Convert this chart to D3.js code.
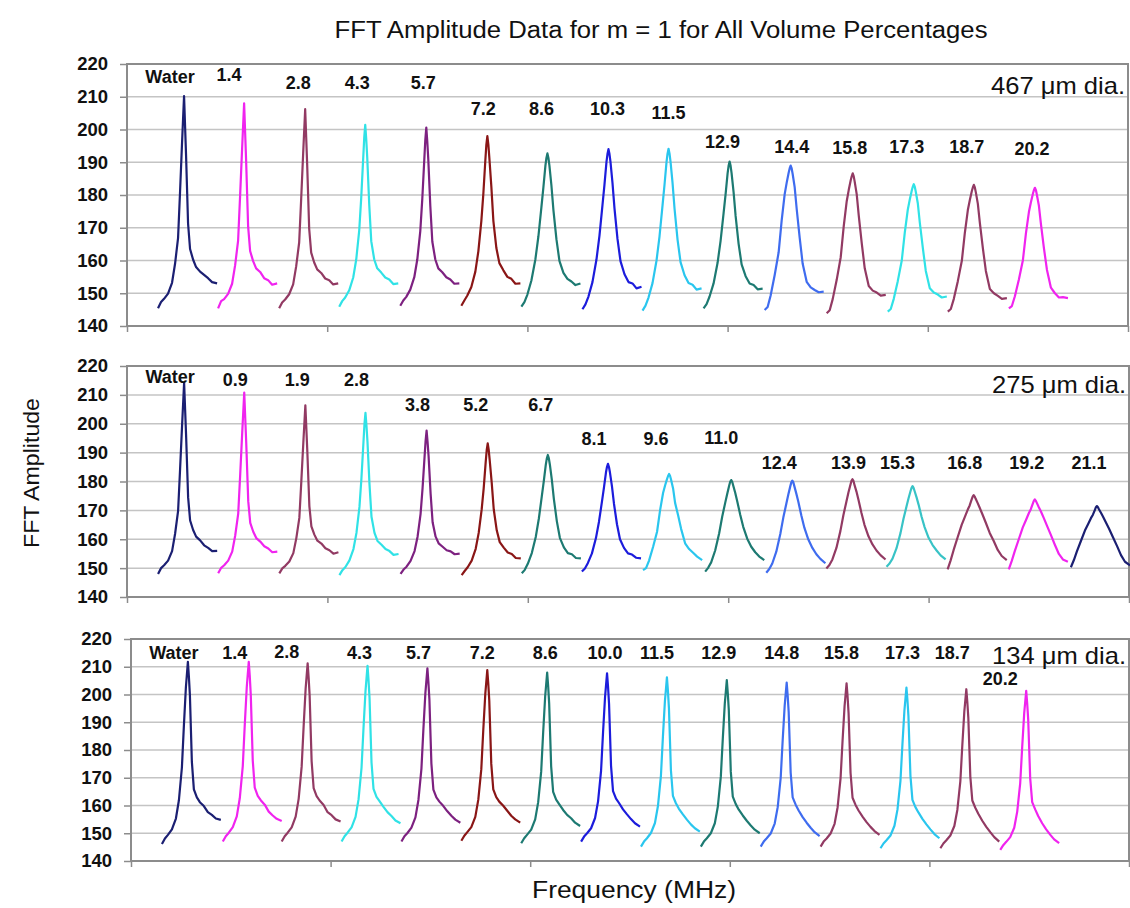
<!DOCTYPE html>
<html><head><meta charset="utf-8">
<script src="https://cdn.jsdelivr.net/npm/d3@7"></script>
<style>
body{margin:0;background:#fff}
svg{display:block}
text{font-family:"Liberation Sans",Arial,Helvetica,sans-serif;fill:#111}
</style>
</head><body>
<svg id="chart" width="1130" height="908"></svg>
<script>
// ---------- DATA ----------
const yTickValues = [140,150,160,170,180,190,200,210,220];
const xTickValues = [0,200,400,600,800,1000];
// frequency offsets (sample units) relative to each resonance centre
const offsets = [-26,-23,-20,-16,-12,-9,-6,-4,-2,-1,0,1,2,4,6,9,12,16,20,24,28,33];

// ---- 467 um ----
const topConc = ["Water","1.4","2.8","4.3","5.7","7.2","8.6","10.3","11.5","12.9","14.4","15.8","17.3","18.7","20.2"];
const topCenters = [57,117,178,238,299,360,420,481,541,602,663,725,786,846,907];
const topAmps = [
 [145.4,147.3,148.3,149.9,153.2,159,166.8,181,196,203.1,210.2,201.1,192.1,171.3,163.5,160.3,158,156.6,155.6,154.6,153.4,153],
 [145.4,147.6,148.2,149.8,152.9,158.5,166.1,179.8,194.2,201.1,208,199.2,190.5,170.4,162.9,159.8,157.6,156.5,154.6,154,152.6,153],
 [145.4,147.2,148.1,149.7,152.7,158.2,165.5,178.8,192.8,199.5,206.2,197.7,189.2,169.7,162.4,159.4,157.3,156.2,154.5,154,152.7,153],
 [145.9,147.6,148.7,150.9,154.8,160.3,169.2,179.2,191.4,197.5,201.4,197,191.4,177,165.9,160.3,157.6,156.3,154.8,154.2,152.8,153],
 [146.2,147.8,148.9,151.1,154.9,160.3,169,178.8,190.8,196.8,200.6,196.2,190.8,176.7,165.8,160.3,157.6,156.4,154.9,154.2,152.9,153],
 [146.2,147.8,149.3,151.9,156.6,162.8,172.1,180.4,190.7,195.4,198,195.4,191.3,182.5,172.1,163.8,159.2,157,155,154.4,152.9,153],
 [145.9,147.3,149.6,153.9,160.4,167.4,176.3,182.4,189,191.3,192.7,191.3,189,182.9,175.4,166.5,159.9,156.2,154.4,153.6,152.5,153],
 [145.1,146.6,149,153.4,160.3,167.6,176.9,183.2,190.1,192.5,194,192.5,190.1,183.7,175.9,166.6,159.8,155.8,153.4,153,151.5,152],
 [144.7,146.2,148.7,153.1,160,167.4,176.8,183.2,190.1,192.6,194.1,192.6,190.1,183.7,175.8,166.4,159.5,155.5,153.1,152.6,151.1,151.5],
 [145.4,146.7,149,153,159.3,166,174.5,180.3,186.6,188.9,190.2,188.9,186.6,180.8,173.6,165.1,158.8,155.2,153,152.5,151.2,151.4],
 [144.9,145.8,149.3,155.5,162.5,172.2,180.2,183.7,186.8,188.1,189,188.1,186.4,182.4,175.8,167,159,153.5,151.8,151,150.3,150.5],
 [143.9,144.8,148.2,154.1,161,170.4,178.1,181.5,184.5,185.7,186.6,185.7,184,180.2,173.8,165.3,157.6,152.2,150.8,150.2,149.3,149.5],
 [144.4,145.2,148.3,153.7,160,168.5,175.5,178.6,181.4,182.5,183.3,182.5,181,177.5,171.6,163.9,156.8,151.5,150.2,149.6,148.7,149],
 [144.4,145.2,148.3,153.7,159.9,168.4,175.4,178.5,181.2,182.3,183.1,182.3,180.8,177.3,171.5,163.8,156.8,151.3,150,149.2,148.3,148.5],
 [145.4,146.1,149.1,154.2,160.1,168.2,174.8,177.8,180.4,181.5,182.2,181.5,180,176.7,171.2,163.8,157.2,151.7,150,148.7,148.8,148.5]
];

// ---- 275 um ----
const midConc = ["Water","0.9","1.9","2.8","3.8","5.2","6.7","8.1","9.6","11.0","12.4","13.9","15.3","16.8","19.2","21.1"];
const midCenters = [57,117,178,238,299,360,420,480,541,603,664,724,784,845,906,968];
const midAmps = [
 [148,150,151,152.6,155.9,161.9,169.8,184.4,199.6,206.9,214.2,204.9,195.7,174.5,166.5,163.2,160.9,159.6,157.9,157,155.9,156],
 [148.2,150.1,151,152.6,155.7,161.3,168.9,182.6,197,203.9,210.8,202,193.3,173.2,165.7,162.6,160.4,159.2,157.6,156.8,155.5,155.7],
 [148.2,149.9,150.8,152.3,155.2,160.4,167.4,180.2,193.6,200,206.4,198.3,190.1,171.5,164.5,161.6,159.5,158.5,156.9,156.2,155,155.5],
 [147.6,149.3,150.4,152.7,156.6,162.2,171.2,181.3,193.7,199.9,203.8,199.3,193.7,179.1,167.8,162.2,159.4,158.1,156.6,155.9,154.6,154.9],
 [148,149.5,150.5,152.5,155.9,160.9,168.8,177.8,188.7,194.1,197.6,193.6,188.7,175.8,165.9,160.9,158.6,157.4,156.2,155.8,154.8,155],
 [147.6,149,150.3,152.6,156.7,162.2,170.4,177.7,186.8,190.9,193.2,190.9,187.3,179.5,170.4,163.1,159,157.1,155.4,154.9,153.5,153.4],
 [148.2,149.4,151.5,155.2,160.9,167.1,174.9,180.2,185.9,188,189.2,188,185.9,180.6,174,166.2,160.5,157.2,155.2,154.8,153.5,153.4],
 [148.8,149.9,151.8,155.1,160.4,166,173,177.9,183.1,185,186.1,185,183.1,178.3,172.3,165.2,160,157,155.1,154.7,153.6,153.4],
 [149.3,150,152.6,157.3,162.6,170,176,178.6,180.9,181.9,182.6,181.9,180.6,177.6,172.6,168.3,163.6,158.6,156.6,155.3,154,152.8],
 [148.8,150.1,152,156.1,162.1,167.8,172.6,175.7,178.6,179.9,180.5,179.9,178.6,176.1,173.2,168.5,164.3,160.2,157.4,155.5,154,152.8],
 [148.4,149.7,151.6,155.7,161.8,167.5,172.3,175.5,178.4,179.7,180.3,179.7,178.4,175.8,173,168.2,164,159.9,157,154.8,153.2,151.7],
 [149.9,151.1,153,157,162.9,168.4,173.1,176.2,178.9,180.2,180.8,180.2,178.9,176.5,173.7,169.1,165,161,158.2,156.1,154.5,153],
 [150.5,151.6,153.3,156.9,162.2,167.2,171.4,174.2,176.7,177.8,178.4,177.8,176.7,174.5,172,167.8,164.2,160.5,158,156.1,154.4,153],
 [149.6,152.7,156.3,160.7,165,167.6,170.2,171.7,173.8,174.8,175.3,174.8,174,172.5,170.9,168.4,165.8,162.2,159.4,156.3,154.2,152.8],
 [149.6,152.5,155.9,160,164.1,166.5,169,170.4,172.3,173.3,173.8,173.3,172.6,171.1,169.7,167.3,164.8,161.5,158.1,154.9,153,152.2],
 [150.3,152.8,155.8,159.4,163,165.1,167.3,168.5,170.2,171.1,171.5,171.1,170.4,169.2,167.9,165.8,163.7,160.7,157.7,154.5,152.2,151]
];

// ---- 134 um ----
const botConc = ["Water","1.4","2.8","4.3","5.7","7.2","8.6","10.0","11.5","12.9","14.8","15.8","17.3","18.7","20.2"];
const botCenters = [57,118,177,237,297,357,417,477,537,597,657,717,777,837,897];
const botAmps = [
 [146.1,148.1,149.4,151.4,155.3,161.9,173.7,188.8,202.6,207.2,211.8,206.5,200,175.7,165.8,162.9,161.2,159.8,157.6,156.6,155.3,154.8],
 [147,148.9,150.2,152.2,156.1,162.6,174.2,189.1,202.7,207.3,211.8,206.6,200.1,176.2,166.4,163.5,161.9,160.3,157.8,156.4,155.2,154.4],
 [147,148.9,150.2,152.1,156,162.4,174,188.7,202.2,206.7,211.2,206.1,199.6,175.9,166.3,163.4,161.8,160.2,157.6,156.5,155,154.2],
 [147,148.9,150.2,152.1,155.9,162.2,173.6,188.1,201.4,205.9,210.3,205.2,198.9,175.5,166,163.1,161.6,159.5,157.6,156.2,154.6,153.6],
 [147,148.9,150.1,152,155.7,162,173.2,187.6,200.7,205,209.4,204.4,198.2,175.1,165.7,162.9,161.4,159.8,157.9,156.3,154.9,153.8],
 [147.3,149.1,150.4,152.2,155.9,162.1,173.1,187.3,200.2,204.5,208.8,203.9,197.7,175,165.8,163,161.4,159.9,158.1,156.3,155,153.8],
 [146.4,148.2,149.5,151.3,155,161.2,172.2,186.4,199.3,203.6,207.9,203,196.8,174.1,164.9,162.1,160.5,158.4,156.6,155.4,153.8,152.6],
 [147,148.8,150,151.8,155.5,161.5,172.5,186.4,199.1,203.4,207.6,202.8,196.7,174.3,165.2,162.5,160.9,158.6,156.8,155.1,153.6,152.4],
 [145.2,147,148.2,150.1,153.7,159.8,170.8,184.9,197.7,201.9,206.2,201.3,195.2,172.7,163.5,160.8,158.8,156.8,154.9,153.2,151.8,150.6],
 [145.2,147,148.2,150,153.6,159.6,170.4,184.2,196.8,201,205.2,200.4,194.4,172.2,163.2,160.5,158.5,156.4,154.5,152.8,151.3,150],
 [145.2,147,148.2,149.9,153.5,159.4,170,183.6,196,200.2,204.3,199.6,193.7,171.8,162.9,160.3,158.2,155.8,153.8,152,150.4,149],
 [145.2,147,148.1,149.9,153.4,159.3,169.9,183.4,195.8,199.9,204,199.3,193.4,171.7,162.8,160.2,158.2,156,154,152.3,150.8,149.4],
 [144.6,146.3,147.5,149.2,152.7,158.5,168.9,182.2,194.4,198.4,202.5,197.9,192.1,170.7,162,159.4,157.5,155.2,153.2,151.4,149.7,148.2],
 [144.6,146.3,147.5,149.2,152.6,158.4,168.7,181.8,193.9,197.9,201.9,197.3,191.6,170.4,161.8,159.2,157,154.5,152.3,150.4,148.6,147],
 [144,145.7,146.9,148.6,152,157.8,168.1,181.2,193.3,197.3,201.3,196.7,191,169.8,161.2,158.6,156.2,153.6,151.4,149.5,147.8,146.4]
];

// annotation anchors (frequency units, amplitude units)
const topLabelX = [43,102,171,230,296,356,414,480,541,595,664,722,779,839,904];
const topLabelY = [216.1,216.6,214.1,214.1,214.1,206.2,206.2,206.2,205.1,196.3,194.6,194.3,194.6,194.6,194.0];
const midLabelX = [43,108,170,229,290,348,413,466,528,593,651,720,769,836,898,960];
const midLabelY = [216.3,215.2,215.2,215.2,206.5,206.5,206.5,194.7,194.7,195.0,186.5,186.5,186.5,186.5,186.5,186.5];
const botLabelX = [43,104,156,229,288,352,415,475,527,589,652,712,773,823,871];
const botLabelY = [214.8,214.8,215.4,214.8,214.8,214.8,214.8,214.8,214.8,214.8,214.8,214.8,214.8,214.8,205.5];
const panelNotes = ["467 \u03bcm dia.","275 \u03bcm dia.","134 \u03bcm dia."];

// ---------- STYLE ----------
const NAVY="#1b1f72", MAG="#f024ef", PLUM="#923a63", CYAN="#30e2e6", PURP="#7d2180",
      DRED="#8a1616", TEAL="#1d7a72", BLUE="#1c1cdc", SKY="#2ac6ee", ROYAL="#3f6cef", TURQ="#38c3c6";
const topColors=[NAVY,MAG,PLUM,CYAN,PURP,DRED,TEAL,BLUE,SKY,TEAL,ROYAL,PLUM,CYAN,PLUM,MAG];
const midColors=[NAVY,MAG,PLUM,CYAN,PURP,DRED,TEAL,BLUE,SKY,TEAL,ROYAL,PLUM,TURQ,PLUM,MAG,NAVY];
const botColors=[NAVY,MAG,PLUM,CYAN,PURP,DRED,TEAL,BLUE,SKY,TEAL,ROYAL,PLUM,SKY,PLUM,MAG];

const panels = [
 {left:127,right:1128,top:64,bottom:326,conc:topConc,centers:topCenters,amps:topAmps,colors:topColors,lx:topLabelX,ly:topLabelY,note:panelNotes[0],noteDy:21},
 {left:127,right:1129,top:366,bottom:597,conc:midConc,centers:midCenters,amps:midAmps,colors:midColors,lx:midLabelX,ly:midLabelY,note:panelNotes[1],noteDy:18},
 {left:131,right:1129,top:639,bottom:861,conc:botConc,centers:botCenters,amps:botAmps,colors:botColors,lx:botLabelX,ly:botLabelY,note:panelNotes[2],noteDy:16}
];

const svg = d3.select("#chart");

panels.forEach(p => {
  const x = d3.scaleLinear().domain([0,1000]).range([p.left,p.right]);
  const y = d3.scaleLinear().domain([140,220]).range([p.bottom,p.top]);
  const g = svg.append("g");

  // gridlines
  g.append("g").selectAll("line").data(yTickValues).join("line")
    .attr("x1",p.left).attr("x2",p.right)
    .attr("y1",d=>y(d)).attr("y2",d=>y(d))
    .attr("stroke","#c4c4c4").attr("stroke-width",1.5);

  // y axis
  const ya = g.append("g").attr("transform",`translate(${p.left},0)`)
    .call(d3.axisLeft(y).tickValues(yTickValues).tickSize(7).tickPadding(12));
  ya.select(".domain").remove();
  ya.selectAll(".tick line").attr("stroke","#8c8c8c").attr("stroke-width",1.5);
  ya.selectAll(".tick text").attr("font-family","'DejaVu Sans',sans-serif")
    .attr("font-weight","bold").attr("font-size",18.5).attr("fill","#111");

  // x axis ticks
  const xa = g.append("g").attr("transform",`translate(0,${p.bottom})`)
    .call(d3.axisBottom(x).tickValues(xTickValues).tickSize(6).tickFormat(""));
  xa.select(".domain").remove();
  xa.selectAll(".tick line").attr("stroke","#8c8c8c").attr("stroke-width",1.5);

  // plot border
  g.append("rect").attr("x",p.left).attr("y",p.top)
    .attr("width",p.right-p.left).attr("height",p.bottom-p.top)
    .attr("fill","none").attr("stroke","#8c8c8c").attr("stroke-width",2);

  // series
  const line = d3.line().x(d=>x(d[0])).y(d=>y(d[1]));
  p.amps.forEach((vals,i) => {
    const pts = offsets.map((o,k)=>[p.centers[i]+o, vals[k]]);
    g.append("path").attr("d",line(pts)).attr("fill","none")
      .attr("stroke",p.colors[i]).attr("stroke-width",2.2)
      .attr("stroke-linejoin","round");
  });

  // concentration labels
  g.append("g").selectAll("text").data(p.conc).join("text")
    .attr("x",(d,i)=>x(p.lx[i])).attr("y",(d,i)=>y(p.ly[i]))
    .attr("text-anchor","middle").attr("dominant-baseline","central")
    .attr("font-weight","bold").attr("font-size",18).text(d=>d);

  // diameter note
  g.append("text").attr("x",p.right-3).attr("y",p.top+p.noteDy)
    .attr("text-anchor","end").attr("dominant-baseline","central")
    .attr("font-size",24).attr("textLength",134).attr("lengthAdjust","spacingAndGlyphs")
    .text(p.note);
});

// titles
svg.append("text").attr("x",661).attr("y",38).attr("text-anchor","middle")
  .attr("font-size",23).attr("textLength",653).attr("lengthAdjust","spacingAndGlyphs")
  .text("FFT Amplitude Data for m = 1 for All Volume Percentages");
svg.append("text").attr("x",634).attr("y",898).attr("text-anchor","middle")
  .attr("font-size",23).attr("textLength",204).attr("lengthAdjust","spacingAndGlyphs")
  .text("Frequency (MHz)");
svg.append("text").attr("transform","translate(39,473) rotate(-90)").attr("text-anchor","middle")
  .attr("font-size",22).attr("textLength",150).attr("lengthAdjust","spacingAndGlyphs")
  .text("FFT Amplitude");
</script>
</body></html>
